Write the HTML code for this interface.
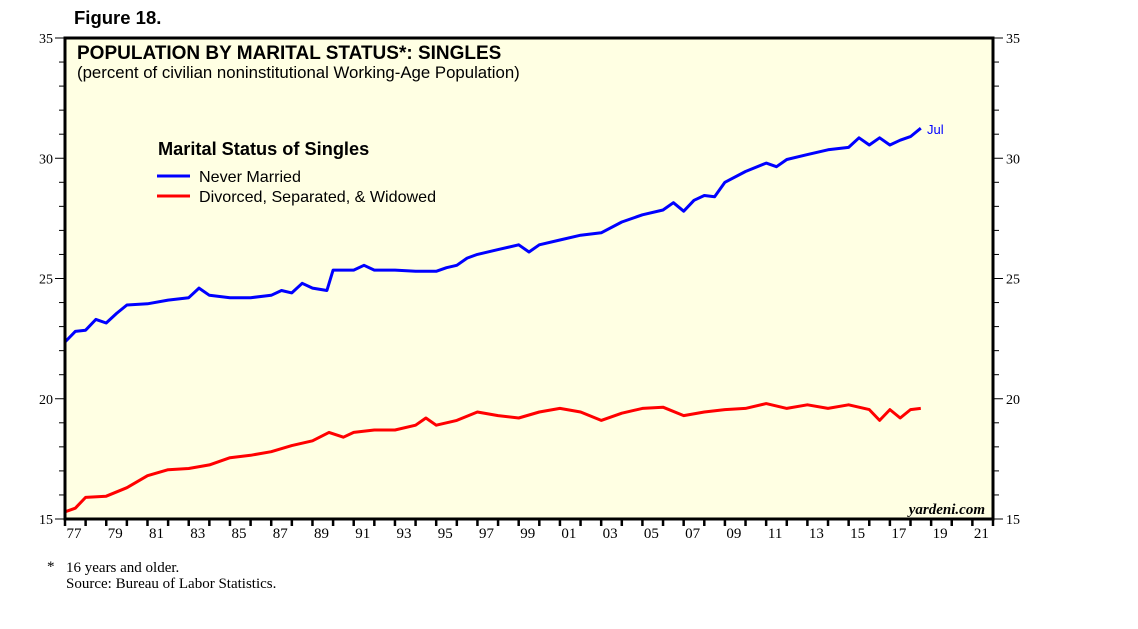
<!DOCTYPE html>
<html><head><meta charset="utf-8"><style>
body{margin:0;background:#fff;width:1138px;height:629px;overflow:hidden}
svg{display:block}
.s{font-family:"Liberation Serif",serif}
.a{font-family:"Liberation Sans",sans-serif}
</style></head><body>
<svg id="c" width="1138" height="629">
<text x="74" y="24" class="a" font-size="18.5" font-weight="bold">Figure 18.</text>
<rect x="65" y="38" width="928" height="481" fill="#ffffe3"/>
<g id="grid"></g>
<g id="series"></g>
<rect x="65" y="38" width="928" height="481" fill="none" stroke="#000" stroke-width="3"/>
<text x="77" y="59" class="a" font-size="19" font-weight="bold">POPULATION BY MARITAL STATUS*: SINGLES</text>
<text x="77" y="78" class="a" font-size="16.8">(percent of civilian noninstitutional Working-Age Population)</text>
<text x="158" y="155" class="a" font-size="18.2" font-weight="bold">Marital Status of Singles</text>
<line x1="157" y1="176" x2="190" y2="176" stroke="#0000ff" stroke-width="3"/>
<text x="199" y="182" class="a" font-size="16.1">Never Married</text>
<line x1="157" y1="196" x2="190" y2="196" stroke="#ff0000" stroke-width="3"/>
<text x="199" y="202" class="a" font-size="16.1">Divorced, Separated, &amp; Widowed</text>
<text x="927" y="134" class="a" font-size="13" fill="#0000ff">Jul</text>
<text x="985" y="514" class="s" font-size="15" font-style="italic" font-weight="bold" text-anchor="end">yardeni.com</text>
<text x="47" y="571" class="s" font-size="15">*</text>
<text x="66" y="572" class="s" font-size="15">16 years and older.</text>
<text x="66" y="588" class="s" font-size="15">Source: Bureau of Labor Statistics.</text>
</svg>
<script>
const yTicks=[15,20,25,30,35];
const xLabels=["77","79","81","83","85","87","89","91","93","95","97","99","01","03","05","07","09","11","13","15","17","19","21"];
const nmT=[1977,1977.5,1978,1978.5,1979,1979.5,1980,1981,1982,1983,1983.5,1984,1985,1986,1987,1987.5,1988,1988.5,1989,1989.7,1990,1991,1991.5,1992,1993,1994,1995,1995.5,1996,1996.5,1997,1998,1999,1999.5,2000,2001,2002,2003,2004,2005,2006,2006.5,2007,2007.5,2008,2008.5,2009,2010,2011,2011.5,2012,2013,2014,2015,2015.5,2016,2016.5,2017,2017.5,2018,2018.5];
const nmV=[22.36,22.8,22.85,23.3,23.15,23.55,23.9,23.95,24.1,24.2,24.6,24.3,24.2,24.2,24.3,24.5,24.4,24.8,24.6,24.5,25.35,25.35,25.55,25.35,25.35,25.3,25.3,25.45,25.55,25.85,26,26.2,26.4,26.1,26.4,26.6,26.8,26.9,27.35,27.65,27.85,28.15,27.8,28.25,28.45,28.4,29,29.45,29.8,29.65,29.95,30.15,30.35,30.45,30.85,30.55,30.85,30.55,30.75,30.9,31.25];
const dsT=[1977,1977.5,1978,1979,1980,1981,1982,1983,1984,1985,1986,1987,1988,1989,1989.8,1990.5,1991,1992,1993,1994,1994.5,1995,1996,1997,1998,1999,2000,2001,2002,2003,2004,2005,2006,2007,2008,2009,2010,2011,2012,2013,2014,2015,2016,2016.5,2017,2017.5,2018,2018.5];
const dsV=[15.3,15.45,15.9,15.95,16.3,16.8,17.05,17.1,17.25,17.55,17.65,17.8,18.05,18.25,18.6,18.4,18.6,18.7,18.7,18.9,19.2,18.9,19.1,19.45,19.3,19.2,19.45,19.6,19.45,19.1,19.4,19.6,19.65,19.3,19.45,19.55,19.6,19.8,19.6,19.75,19.6,19.75,19.55,19.1,19.55,19.2,19.55,19.6];
const L=65,R=993,T=38,B=519;
const x=t=>L+(t-1977)*(R-L)/45;
const y=v=>B-(v-15)*(B-T)/20;
const NS="http://www.w3.org/2000/svg";
const g=document.getElementById('grid'),sg=document.getElementById('series');
function mk(tag,at,par){const e=document.createElementNS(NS,tag);for(const k in at)e.setAttribute(k,at[k]);par.appendChild(e);return e;}
for(let v=15;v<=35;v++){
 const l=mk('line',{x1:L-(v%5?6:10),x2:L,y1:y(v),y2:y(v),stroke:'#000','stroke-width':1},g);
 
 
 const r=mk('line',{x1:R,x2:R+(v%5?6:10),y1:y(v),y2:y(v),stroke:'#000','stroke-width':1},g);
 
 
}
yTicks.forEach(v=>{
 const a=mk('text',{x:L-12,y:y(v)+5,'text-anchor':'end','font-size':14,class:'s'},g);a.textContent=v;
 
 
 const b=mk('text',{x:R+13,y:y(v)+5,'font-size':14,class:'s'},g);b.textContent=v;
 
 
});
for(let yr=1977;yr<=2022;yr++){
 const l=mk('line',{x1:x(yr),x2:x(yr),y1:B,y2:B+7,stroke:'#000','stroke-width':2.5},g);
 
 
}
xLabels.forEach((s,i)=>{
 const yr=1977+2*i;
 const t=mk('text',{x:x(yr)+9,y:B+19,'text-anchor':'middle','font-size':15,class:'s'},g);t.textContent=s;
 
 
});
function path(T_,V,c,n){
 const d=T_.map((t,i)=>(i?'L':'M')+x(t).toFixed(1)+','+y(V[i]).toFixed(1)).join('');
 const p=mk('path',{d:d,fill:'none',stroke:c,'stroke-width':3,'stroke-linejoin':'round'},sg);
 
 
}
path(nmT,nmV,'#0000ff','never-married-line');
path(dsT,dsV,'#ff0000','divorced-separated-widowed-line');
</script>
</body></html>
